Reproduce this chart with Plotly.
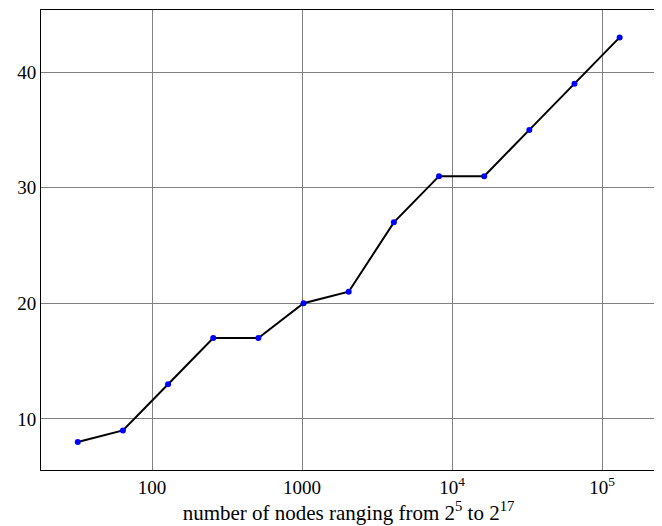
import plotly.graph_objects as go
import math

nodes = [2**k for k in range(5, 18)]
values = [8, 9, 13, 17, 17, 20, 21, 27, 31, 31, 35, 39, 43]
x_tick_vals = [100, 1000, 10000, 100000]
x_tick_text = ["100", "1000", "10<sup>4</sup>", "10<sup>5</sup>"]
y_tick_vals = [10, 20, 30, 40]

fig = go.Figure()
fig.add_trace(go.Scatter(
    x=nodes, y=values, mode="lines+markers",
    line=dict(color="black", width=2),
    marker=dict(color="blue", size=6),
    showlegend=False,
))

family = "Liberation Serif"
font = dict(family=family, size=19, color="black")
title_font = dict(family=family, size=21, color="black")
# page body adds an 8px offset, so the figure is sized/margined to compensate
fig.update_layout(
    width=654, height=518,
    margin=dict(l=33, r=6, t=2, b=56, autoexpand=False),
    paper_bgcolor="white", plot_bgcolor="white",
    font=font,
)
fig.update_xaxes(
    type="log", range=[math.log10(18.2), math.log10(229000)],
    tickvals=x_tick_vals, ticktext=x_tick_text, tickfont=font,
    showgrid=True, gridcolor="#808080", gridwidth=1,
    showline=True, linecolor="black", linewidth=1, mirror=True,
    ticks="", zeroline=False, automargin=False,
    title=dict(text="number of nodes ranging from 2<sup>5</sup> to 2<sup>17</sup>", standoff=8, font=title_font),
)
fig.update_yaxes(
    range=[5.58, 45.37], tickvals=y_tick_vals, tickfont=font,
    showgrid=True, gridcolor="#808080", gridwidth=1,
    showline=True, linecolor="black", linewidth=1, mirror=True,
    ticks="", zeroline=False, automargin=False,
)
fig.write_html("out.html")
